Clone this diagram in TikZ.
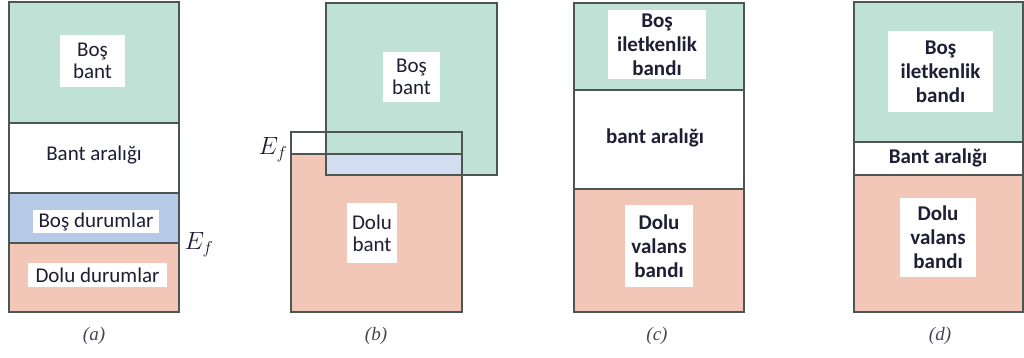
\documentclass[tikz,border=0pt]{standalone}
\usepackage{fontspec}
\newfontfamily\lblfont{Carlito}
\newfontfamily\capfont{Liberation Serif}
\begin{document}
\begin{tikzpicture}[x=1pt,y=-1pt,
  edge/.style={draw=linegray,line width=1.4pt},
  emptyband/.style={fill=bandgreen},
  fullband/.style={fill=bandred},
  freestates/.style={fill=bandblue},
  tag/.style={fill=white,inner sep=0pt,align=center,text=txtdark,
    font=\lblfont\fontsize{21}{22}\selectfont},
  boldtag/.style={tag,font=\lblfont\bfseries\fontsize{21}{24}\selectfont},
  fermi/.style={inner sep=0pt,text=txtdark,font=\fontsize{23}{25}\selectfont},
  caption/.style={inner sep=0pt,text=capgray,font=\capfont\itshape\fontsize{19}{21}\selectfont}]
\definecolor{bandgreen}{RGB}{192,226,214}
\definecolor{bandred}{RGB}{242,199,183}
\definecolor{bandblue}{RGB}{182,202,232}
\definecolor{paleblue}{RGB}{210,221,240}
\definecolor{linegray}{RGB}{78,86,84}
\definecolor{txtdark}{RGB}{30,30,52}
\definecolor{capgray}{RGB}{70,70,78}
\useasboundingbox (0,0) rectangle (1024,358);
\fill[white] (0,0) rectangle (1024,358);

% ---- (a) metal: partly filled band ----
\fill[emptyband] (9,2) rectangle (179,123);
\fill[freestates] (9,193) rectangle (179,243);
\fill[fullband] (9,243) rectangle (179,312);
\draw[edge] (9,2) rectangle (179,312);
\draw[edge] (9,123) -- (179,123);
\draw[edge] (9,193) -- (179,193);
\draw[edge] (9,243) -- (179,243);
\node[tag,minimum width=65pt,minimum height=52pt] (a1) at (92.5,61) {Boş\\bant};
\node[tag] (a2) at (94,155) {Bant aralığı};
\node[tag,minimum width=126pt,minimum height=23pt] (a3) at (96,221.5) {Boş durumlar};
\node[tag,minimum width=139pt,minimum height=24pt] (a4) at (97.5,275) {Dolu durumlar};
\node[fermi] (efa) at (199,245) {$E_f$};
\node[caption] (capa) at (94,336) {(a)};

% ---- (b) overlapping bands ----
\fill[fullband] (291,132) rectangle (462,312);
\fill[white] (291,132) rectangle (462,154);
\fill[emptyband] (326,3) rectangle (497,175);
\fill[paleblue] (326,154) rectangle (462,175);
\draw[edge] (326,3) rectangle (497,175);
\draw[edge] (291,132) rectangle (462,312);
\draw[edge] (291,154) -- (462,154);
\node[tag,minimum width=57pt,minimum height=50pt] (b1) at (411.5,77) {Boş\\bant};
\node[tag,minimum width=50pt,minimum height=60pt] (b2) at (372,233) {Dolu\\bant};
\node[fermi] (efb) at (273,150) {$E_f$};
\node[caption] (capb) at (376,336) {(b)};

% ---- (c) insulator: wide gap ----
\fill[emptyband] (574,3) rectangle (744,90);
\fill[fullband] (574,189) rectangle (744,312);
\draw[edge] (574,3) rectangle (744,312);
\draw[edge] (574,90) -- (744,90);
\draw[edge] (574,189) -- (744,189);
\node[boldtag,minimum width=98pt,minimum height=69pt] (c1) at (657,44.5) {Boş\\iletkenlik\\bandı};
\node[boldtag] (c2) at (655,138) {bant aralığı};
\node[boldtag,minimum width=68pt,minimum height=82pt] (c3) at (659,246) {Dolu\\valans\\bandı};
\node[caption] (capc) at (657,336) {(c)};

% ---- (d) semiconductor: narrow gap ----
\fill[emptyband] (854,2) rectangle (1023,142);
\fill[fullband] (854,175) rectangle (1023,312);
\draw[edge] (854,2) rectangle (1023,312);
\draw[edge] (854,142) -- (1023,142);
\draw[edge] (854,175) -- (1023,175);
\node[boldtag,minimum width=105pt,minimum height=81pt] (d1) at (940.5,71.5) {Boş\\iletkenlik\\bandı};
\node[boldtag] (d2) at (938,158) {Bant aralığı};
\node[boldtag,minimum width=76pt,minimum height=79pt] (d3) at (938,237.5) {Dolu\\valans\\bandı};
\node[caption] (capd) at (940,336) {(d)};
\end{tikzpicture}
\end{document}
